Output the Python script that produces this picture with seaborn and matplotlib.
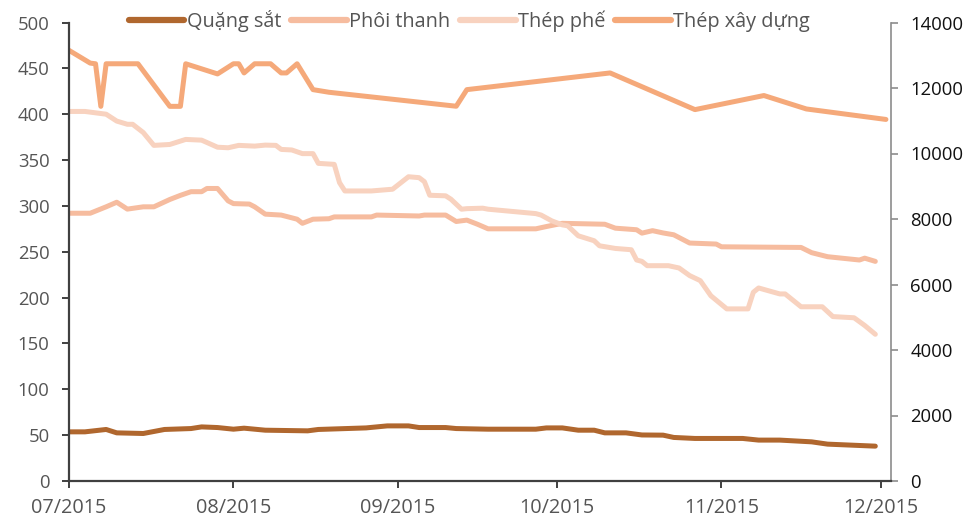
import pandas as pd
import numpy as np
import matplotlib
matplotlib.use("Agg")
import matplotlib.pyplot as plt
import matplotlib.dates as mdates
from matplotlib.lines import Line2D
import seaborn as sns

# ---------------- data ----------------
ore_dates = ["2015-07-01","2015-07-04","2015-07-08","2015-07-10","2015-07-15","2015-07-19","2015-07-24",
             "2015-07-26","2015-07-29","2015-08-01","2015-08-03","2015-08-07","2015-08-15","2015-08-17",
             "2015-08-26","2015-08-30","2015-09-03","2015-09-05","2015-09-10","2015-09-12","2015-09-18",
             "2015-09-27","2015-09-29","2015-10-02","2015-10-05","2015-10-08","2015-10-10","2015-10-14",
             "2015-10-17","2015-10-21","2015-10-23","2015-10-27","2015-11-05","2015-11-08","2015-11-12",
             "2015-11-18","2015-11-21","2015-11-30"]
ore_vals = [53.6,53.6,56.2,52.5,51.8,56.2,57.2,59.0,58.3,56.5,57.6,55.4,54.7,56.2,57.9,60.1,60.1,58.3,58.3,
            57.2,56.5,56.5,57.9,57.9,55.4,55.4,52.5,52.5,50.2,50.0,47.5,46.4,46.4,44.6,44.6,42.7,40.2,38.0]

billet_dates = ["2015-07-01","2015-07-05","2015-07-08","2015-07-10","2015-07-12","2015-07-15","2015-07-17",
                "2015-07-20","2015-07-22","2015-07-24","2015-07-26","2015-07-27","2015-07-29","2015-07-31",
                "2015-08-01","2015-08-04","2015-08-05","2015-08-07","2015-08-10","2015-08-13","2015-08-14",
                "2015-08-16","2015-08-19","2015-08-20","2015-08-27","2015-08-28","2015-09-05","2015-09-06",
                "2015-09-10","2015-09-12","2015-09-14","2015-09-16","2015-09-18","2015-09-27","2015-09-29",
                "2015-10-02","2015-10-10","2015-10-12","2015-10-16","2015-10-17","2015-10-19","2015-10-21",
                "2015-10-23","2015-10-26","2015-10-31","2015-11-01","2015-11-16","2015-11-18","2015-11-21",
                "2015-11-27","2015-11-28","2015-11-30"]
billet_vals = [292,292,299,304,296.5,299,299,307,311.5,315.5,315.5,319,319,305.5,302.5,302,299,291,290,285.5,
               281,285.5,286,288,288,290,289,290,290,283,284.5,280,275,275,277.5,281,280,275.7,274,270.3,273,
               270.5,268.5,259.5,258.4,255.4,254.7,249,244.6,241,243,239.5]

scrap_dates = ["2015-07-01","2015-07-04","2015-07-08","2015-07-10","2015-07-12","2015-07-13","2015-07-15",
               "2015-07-17","2015-07-20","2015-07-23","2015-07-26","2015-07-29","2015-07-31","2015-08-02",
               "2015-08-05","2015-08-07","2015-08-09","2015-08-10","2015-08-12","2015-08-14","2015-08-16",
               "2015-08-17","2015-08-20","2015-08-21","2015-08-22","2015-08-27","2015-08-31","2015-09-03",
               "2015-09-05","2015-09-06","2015-09-07","2015-09-10","2015-09-11","2015-09-13","2015-09-14",
               "2015-09-17","2015-09-18","2015-09-27","2015-09-28","2015-09-30","2015-10-02","2015-10-03",
               "2015-10-05","2015-10-08","2015-10-09","2015-10-12","2015-10-15","2015-10-16","2015-10-17",
               "2015-10-18","2015-10-22","2015-10-24","2015-10-26","2015-10-28","2015-10-30","2015-11-02",
               "2015-11-06","2015-11-07","2015-11-08","2015-11-12","2015-11-13","2015-11-16","2015-11-20",
               "2015-11-22","2015-11-26","2015-11-28","2015-11-30"]
scrap_vals = [403,403,400,392.5,389,389,380,366,367,372.5,371.7,364,363.4,366,365.2,366.3,366,361.6,361,357,
              357,346.4,345.3,325.3,316.3,316.3,318.2,331.8,330.8,326.4,311.6,311,307.3,296.4,297,297.5,296.4,
              291.6,290,283.7,279.3,278.3,267.4,262,256.5,253.6,252.2,241,239.5,234.8,234.8,232.3,224,218.5,
              202,187.7,187.7,205.8,210.5,204,204,190,190,179.3,178,169.6,160]

rebar_dates = ["2015-07-01","2015-07-05","2015-07-06","2015-07-07","2015-07-08","2015-07-14","2015-07-20",
               "2015-07-22","2015-07-23","2015-07-29","2015-08-01","2015-08-02","2015-08-03","2015-08-05",
               "2015-08-08","2015-08-10","2015-08-11","2015-08-13","2015-08-16","2015-08-19","2015-09-12",
               "2015-09-14","2015-10-11","2015-10-27","2015-11-09","2015-11-17","2015-12-02"]
rebar_vals = [13150,12760,12740,11440,12740,12740,11440,11440,12740,12430,12740,12740,12460,12740,12740,
              12460,12460,12740,11950,11870,11443,11950,12460,11340,11770,11360,11040]

series_names = ["Quặng sắt", "Phôi thanh", "Thép phế", "Thép xây dựng"]
colors = ["#B0672E", "#F6BC9F", "#F8D2BF", "#F5A97A"]
x_ticks = ["2015-07-01","2015-08-01","2015-09-01","2015-10-01","2015-11-01","2015-12-01"]
left_ticks = [0, 50, 100, 150, 200, 250, 300, 350, 400, 450, 500]
right_ticks = [0, 2000, 4000, 6000, 8000, 10000, 12000, 14000]

# ---------------- build frames ----------------
df_left = pd.concat([
    pd.DataFrame({"date": pd.to_datetime(ore_dates), "value": ore_vals, "series": series_names[0]}),
    pd.DataFrame({"date": pd.to_datetime(billet_dates), "value": billet_vals, "series": series_names[1]}),
    pd.DataFrame({"date": pd.to_datetime(scrap_dates), "value": scrap_vals, "series": series_names[2]}),
], ignore_index=True)
df_right = pd.DataFrame({"date": pd.to_datetime(rebar_dates), "value": rebar_vals, "series": series_names[3]})

sns.set_style("ticks")
plt.rcParams["font.family"] = ["Open Sans", "DejaVu Sans"]

fig = plt.figure(figsize=(9.76, 5.21), dpi=100)
ax = fig.add_axes([69/976, 1-481/521, (890.7-69)/976, (481-22.5)/521])
ax2 = ax.twinx()

lw = 3.6
sns.lineplot(data=df_left, x="date", y="value", hue="series", hue_order=series_names[:3],
             palette=colors[:3], linewidth=lw, ax=ax, legend=False, sort=True,
             solid_capstyle="round", solid_joinstyle="round")
sns.lineplot(data=df_right, x="date", y="value", color=colors[3], linewidth=lw, ax=ax2,
             legend=False, solid_capstyle="round", solid_joinstyle="round")

ax.set_zorder(ax2.get_zorder() + 1)
ax.patch.set_visible(False)

x0 = pd.Timestamp("2015-07-01")
ax.set_xlim(x0, x0 + pd.Timedelta(days=154.9))
ax.set_ylim(0, 500)
ax2.set_ylim(0, 14000)
ax.set_yticks(left_ticks)
ax2.set_yticks(right_ticks)
ax.set_xticks(pd.to_datetime(x_ticks))
ax.xaxis.set_major_formatter(mdates.DateFormatter("%m/%Y"))

ax.set_xlabel("")
ax.set_ylabel("")
ax2.set_ylabel("")

for a in (ax, ax2):
    a.spines["top"].set_visible(False)
ax.spines["right"].set_visible(False)
ax2.spines["left"].set_visible(False)
ax2.spines["bottom"].set_visible(False)
ax.spines["left"].set_color("#404040")
ax.spines["bottom"].set_color("#404040")
ax.spines["left"].set_linewidth(1.6)
ax.spines["bottom"].set_linewidth(1.6)
ax2.spines["right"].set_color("#8c8c8c")
ax2.spines["right"].set_linewidth(1.2)

ax.tick_params(axis="y", length=5, width=1.4, color="#404040", pad=9, labelsize=13.3, labelcolor="#555555")
ax.tick_params(axis="x", length=5, width=1.4, color="#404040", pad=7, labelsize=14.3, labelcolor="#555555")
ax2.tick_params(axis="y", length=5, width=1.2, color="#8c8c8c", pad=9, labelsize=13.3, labelcolor="#111111")

handles = [Line2D([0], [0], color=c, linewidth=4.5, solid_capstyle="round") for c in colors]
fig.legend(handles, series_names, loc="center", bbox_to_anchor=(0.481, 1 - 21/521), ncol=4,
           frameon=False, fontsize=14.3, handlelength=2.8, handletextpad=0.12, columnspacing=0.5,
           labelcolor="#555555", borderpad=0, borderaxespad=0)

fig.savefig("out.png", dpi=100)
